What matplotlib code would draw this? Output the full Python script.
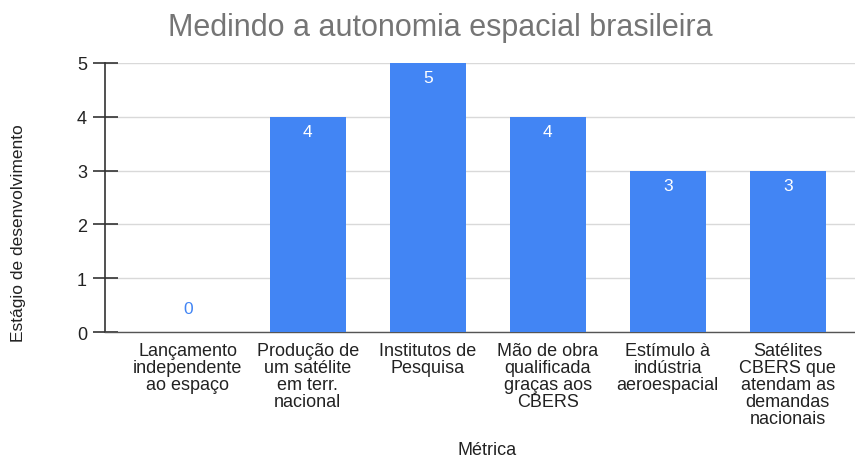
import matplotlib.pyplot as plt

plt.rcParams['font.family'] = ['Liberation Sans', 'DejaVu Sans']

categorias = [
    'Lançamento\nindependente\nao espaço',
    'Produção de\num satélite\nem terr.\nnacional',
    'Institutos de\nPesquisa',
    'Mão de obra\nqualificada\ngraças aos\nCBERS',
    'Estímulo à\nindústria\naeroespacial',
    'Satélites\nCBERS que\natendam as\ndemandas\nnacionais',
]
valores = [0, 4, 5, 4, 3, 3]
yticks = [0, 1, 2, 3, 4, 5]

azul = '#4285f4'

fig = plt.figure(figsize=(8.55, 4.6), dpi=100)
ax = fig.add_axes([0.1228, 0.276, 0.8772, 0.585])

x = list(range(len(categorias)))
ax.bar(x, valores, width=0.63, color=azul, zorder=3)

for xi, v in zip(x, valores):
    if v > 0:
        ax.text(xi, v - 0.13, str(v), ha='center', va='top', color='white',
                fontsize=12.5, zorder=4)
    else:
        ax.text(xi, 0.3, str(v), ha='center', va='bottom', color=azul,
                fontsize=12.5, zorder=4)

ax.set_xlim(-0.69, 5.56)
ax.set_ylim(0, 5)
ax.set_yticks(yticks)
ax.set_xticks(x)
ax.set_xticklabels(categorias, fontsize=13, color='#222222', linespacing=1.0)
ax.tick_params(axis='x', length=0, pad=7)
ax.tick_params(axis='y', direction='inout', length=18, width=1.2, color='#333333',
               labelsize=13, labelcolor='#222222', pad=4)

ax.grid(axis='y', color='#d9d9d9', linewidth=1, zorder=0)
for s in ['top', 'right']:
    ax.spines[s].set_visible(False)
ax.spines['left'].set_color('#333333')
ax.spines['left'].set_linewidth(1.2)
ax.spines['bottom'].set_color('#555555')
ax.spines['bottom'].set_linewidth(1)

fig.text(0.515, 0.94, 'Medindo a autonomia espacial brasileira', fontsize=22,
         color='#757575', ha='center', va='center')
ax.set_xlabel('Métrica', fontsize=13, color='#222222')
ax.xaxis.set_label_coords(0.51, -0.405)
ax.set_ylabel('Estágio de desenvolvimento', fontsize=12.5, color='#222222')
ax.yaxis.set_label_coords(-0.105, 0.37)

fig.savefig('out.png', dpi=100)
